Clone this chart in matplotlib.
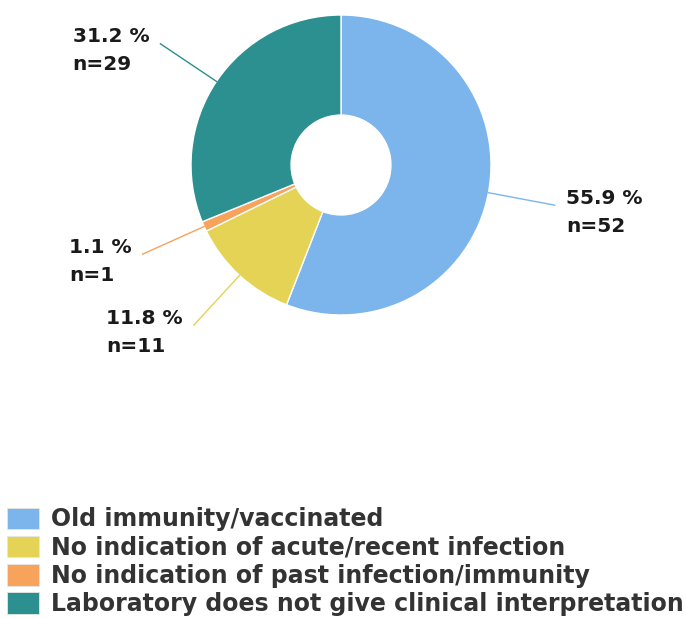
import numpy as np
import matplotlib.pyplot as plt
from matplotlib.patches import Patch

categories = [
    "Old immunity/vaccinated",
    "No indication of acute/recent infection",
    "No indication of past infection/immunity",
    "Laboratory does not give clinical interpretation",
]
counts = [52, 11, 1, 29]
percents = [55.9, 11.8, 1.1, 31.2]
colors = ["#7cb5ec", "#e4d354", "#f7a35c", "#2b908f"]

W, H = 686, 619
fig = plt.figure(figsize=(W / 100, H / 100), dpi=100)

# pie centre and radius in pixels
cx, cy, r = 341, 165, 150
ax = fig.add_axes([(cx - r) / W, (H - cy - r) / H, 2 * r / W, 2 * r / H])

wedges, _ = ax.pie(counts, colors=colors, startangle=90, counterclock=False,
                   radius=1, wedgeprops=dict(width=0.667, edgecolor="white", linewidth=1))
ax.set_xlim(-1, 1)
ax.set_ylim(-1, 1)
ax.set_aspect("equal")
ax.axis("off")

for w, p, n, c in zip(wedges, percents, counts, colors):
    ang = np.deg2rad((w.theta1 + w.theta2) / 2)
    x0, y0 = np.cos(ang), np.sin(ang)
    x1, y1 = 1.45 * x0, 1.45 * y0
    ax.plot([x0, x1], [y0, y1], color=c, lw=1, clip_on=False)
    right = x0 > 0
    ax.annotate(f"{p} %\nn={n}", xy=(x1, y1), xytext=(8 if right else -8, -5),
                textcoords="offset points", ha="left" if right else "right",
                va="center", multialignment="left", fontsize=14.5,
                fontweight="bold", color="#1a1a1a", linespacing=1.6,
                annotation_clip=False)

handles = [Patch(facecolor=c, edgecolor="#e6e6e6", linewidth=0.6) for c in colors]
fig.legend(handles, categories, loc="lower left", bbox_to_anchor=(0.003, -0.003),
           frameon=False, handlelength=1.36, handleheight=1.02,
           handletextpad=0.5, labelspacing=0.18, borderaxespad=0.15,
           borderpad=0.05, prop=dict(weight="bold", size=17), labelcolor="#333333")

fig.savefig("out.png", dpi=100)
